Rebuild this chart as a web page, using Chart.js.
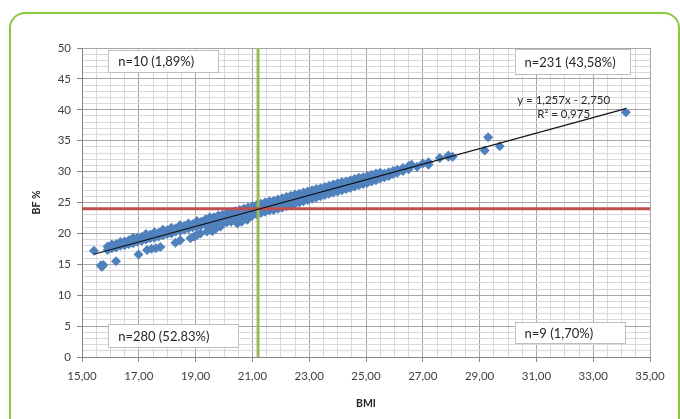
<!DOCTYPE html>
<html>
<head>
<meta charset="utf-8">
<script src="https://cdn.jsdelivr.net/npm/chart.js@4.4.1/dist/chart.umd.min.js"></script>
<style>
  html, body { margin: 0; padding: 0; background: #fff; }
  #wrap { position: relative; width: 680px; height: 419px; overflow: hidden; }
  #frame {
    position: absolute; left: 9px; top: 12px; width: 671px; height: 450px;
    border: 2px solid #8dc63f; border-radius: 16px; box-sizing: border-box;
  }
  #BFC { position: absolute; left: 0; top: 0; }
</style>
</head>
<body>
<div id="wrap">
  <div id="frame"></div>
  <canvas id="BFC" width="680" height="419"></canvas>
</div>
<script>
// BMI vs body fat %, points as [bmi, bf]
let mainBand = [
  [15.9,17.3],[15.9,17.9],[16.05,17.6],[16.05,18.2],[16.2,17.7],[16.2,18.3],[16.35,18.0],[16.35,18.6],[16.5,18.1],[16.5,18.7],
  [16.65,18.3],[16.65,18.9],[16.8,18.4],[16.8,19.0],[16.8,19.3],[16.95,18.7],[16.95,19.3],[17.1,18.8],[17.1,19.4],[17.25,19.0],
  [17.25,19.6],[17.25,19.9],[17.4,19.2],[17.4,19.8],[17.55,19.3],[17.55,19.9],[17.55,20.2],[17.7,19.5],[17.7,20.1],[17.85,19.7],
  [17.85,20.3],[17.85,20.6],[18.0,19.9],[18.0,20.5],[18.15,20.0],[18.15,20.6],[18.15,20.9],[18.3,20.3],[18.3,20.8],[18.45,20.4],
  [18.45,21.0],[18.45,21.3],[18.6,20.6],[18.6,21.2],[18.75,20.8],[18.75,21.4],[18.75,21.6],[18.9,21.0],[18.9,21.5],[19.05,21.1],
  [19.05,21.7],[19.05,22.0],[19.2,21.3],[19.2,21.9],[19.35,21.4],[19.35,22.0],[19.35,22.3],[19.5,21.5],[19.5,22.1],[19.5,22.6],
  [19.65,21.2],[19.65,21.9],[19.65,22.6],[19.8,21.5],[19.8,22.2],[19.8,22.9],[19.95,21.6],[19.95,22.4],[19.95,23.0],
  [20.1,21.8],[20.1,22.6],[20.1,23.2],[20.25,21.9],[20.25,22.7],[20.25,23.4],[20.4,22.2],[20.4,23.0],[20.4,23.6],
  [20.55,22.3],[20.55,23.1],[20.55,23.8],[20.7,22.6],[20.7,23.4],[20.7,24.0],[20.85,22.7],[20.85,23.5],[20.85,24.2],
  [21.0,22.9],[21.0,23.7],[21.0,24.4],[21.15,23.1],[21.15,23.9],[21.15,24.6],[21.3,23.3],[21.3,24.1],[21.3,24.8],
  [21.45,23.5],[21.45,24.3],[21.45,25.0],[21.6,23.7],[21.6,24.4],[21.6,25.2],[21.75,23.8],[21.75,24.6],[21.75,25.3],
  [21.9,24.0],[21.9,24.9],[21.9,25.5],[22.05,24.2],[22.05,25.0],[22.05,25.7],[22.2,24.4],[22.2,25.2],[22.2,25.9],
  [22.35,24.6],[22.35,25.4],[22.35,26.1],[22.5,24.8],[22.5,25.6],[22.5,26.3],[22.65,25.0],[22.65,25.8],[22.65,26.4],
  [22.8,25.2],[22.8,26.0],[22.8,26.6],[22.95,25.4],[22.95,26.1],[22.95,26.8],[23.1,25.6],[23.1,26.3],[23.1,27.0],
  [23.25,25.8],[23.25,26.5],[23.25,27.2],[23.4,26.0],[23.4,26.7],[23.4,27.3],[23.55,26.2],[23.55,26.9],[23.55,27.5],
  [23.7,26.4],[23.7,27.1],[23.7,27.7],[23.85,26.6],[23.85,27.3],[23.85,27.9],[24.0,26.8],[24.0,27.4],[24.0,28.1],
  [24.15,27.0],[24.15,27.6],[24.15,28.3],[24.3,27.2],[24.3,27.8],[24.3,28.4],[24.45,27.4],[24.45,28.0],[24.45,28.6],
  [24.6,27.6],[24.6,28.2],[24.6,28.8],[24.75,27.8],[24.75,28.4],[24.75,29.0],[24.9,28.0],[24.9,28.6],[24.9,29.1],
  [25.05,28.2],[25.05,28.8],[25.05,29.3],[25.2,28.4],[25.2,29.0],[25.2,29.5],[25.35,28.6],[25.35,29.1],[25.35,29.7],
  [25.5,28.9],[25.5,29.4],[25.5,29.8],[25.65,29.1],[25.65,29.7],[25.8,29.3],[25.8,29.9],[25.95,29.6],[25.95,30.1],
  [26.1,29.8],[26.1,30.3],[26.3,30.1],[26.3,30.6],[26.5,30.4],[26.5,30.9],[26.6,31.1],[26.8,30.8],[27.0,31.3],
  [27.2,31.5],[27.2,31.1],[27.6,32.2],[27.9,32.4],[27.9,32.6],[28.05,32.4]
];

let lowerTail = [
  [15.66,14.8],[15.75,14.9],[15.7,14.6],[16.2,15.5],[16.99,16.6],[17.29,17.3],[17.45,17.5],[17.6,17.6],[17.76,17.8],
  [18.29,18.5],[18.46,18.9],[18.82,19.2],[18.95,19.5],[19.05,19.7],[19.17,20.0],[19.4,20.3],[19.55,20.5],[19.6,20.4],
  [19.72,20.8],[19.88,21.1],[20.47,21.6],[20.62,21.9],[20.82,22.2]
];

let outliers = [
  [15.42,17.2],[29.3,35.55],[29.18,33.4],[29.71,34.1],[34.15,39.6]
];

// linear fit y = 1,257x - 2,750 over the data range
let trendEnds = [[15.42,16.63],[34.15,40.18]];
let bmiCut = 21.2;
let bfCut = 24;

let xTicks = { min: 15, max: 35, major: 2, minor: 0.5 };
let yTicks = { min: 0, max: 50, major: 5, minor: 1 };

let notes = [
  { text: "n=10 (1,89%)", x0: 15.92, x1: 19.81, y0: 49.7, y1: 46.1 },
  { text: "n=231 (43,58%)", x0: 30.23, x1: 34.29, y0: 49.8, y1: 45.8 },
  { text: "n=280 (52.83%)", x0: 15.92, x1: 20.5, y0: 5.3, y1: 1.5 },
  { text: "n=9 (1,70%)", x0: 30.23, x1: 34.1, y0: 5.66, y1: 2.27 },
];
let eqLines = [
  { text: "y = 1,257x - 2,750", x: 31.96, y: 41.6 },
  { text: "R\u00b2 = 0,975", x: 31.96, y: 39.2 },
];

let toXY = (arr) => arr.map((p) => ({ x: p[0], y: p[1] }));
let isMajor = (v, t) => {
  let k = (v - t.min) / t.major;
  return Math.abs(k - Math.round(k)) < 1e-6;
};

Chart.defaults.font.family = "Lato, 'Open Sans', sans-serif";
Chart.defaults.color = "#404040";

let notesPlugin = {
  id: "notes",
  afterDatasetsDraw(chart) {
    let { ctx, scales } = chart;
    let xs = scales.x, ys = scales.y;
    ctx.save();
    ctx.font = "13px Lato, 'Open Sans', sans-serif";
    ctx.textBaseline = "middle";
    notes.forEach((n) => {
      let l = xs.getPixelForValue(n.x0), r = xs.getPixelForValue(n.x1);
      let t = ys.getPixelForValue(n.y0), b = ys.getPixelForValue(n.y1);
      ctx.fillStyle = "#fff";
      ctx.fillRect(l, t, r - l, b - t);
      ctx.strokeStyle = "#bfbfbf";
      ctx.lineWidth = 1;
      ctx.strokeRect(Math.round(l) + 0.5, Math.round(t) + 0.5, Math.round(r - l), Math.round(b - t));
      ctx.fillStyle = "#262626";
      ctx.textAlign = "left";
      ctx.fillText(n.text, l + 10, (t + b) / 2 + 1);
    });
    ctx.font = "11.5px Lato, 'Open Sans', sans-serif";
    ctx.textAlign = "center";
    eqLines.forEach((e) => {
      ctx.fillStyle = "#262626";
      ctx.fillText(e.text, xs.getPixelForValue(e.x), ys.getPixelForValue(e.y));
    });
    ctx.restore();
  },
};

renderBodyFatChart();

function renderBodyFatChart() {
  let BFC = document.querySelector("#BFC");
  let ConfigBFC = new Chart(BFC, {
    type: "scatter",
    data: {
      datasets: [
        {
          label: "Trend",
          type: "line",
          data: toXY(trendEnds),
          borderColor: "#111",
          borderWidth: 1.2,
          pointRadius: 0,
          order: 0,
        },
        {
          label: "BF cut",
          type: "line",
          data: [{ x: xTicks.min, y: bfCut }, { x: xTicks.max, y: bfCut }],
          borderColor: "#c0504d",
          borderWidth: 3,
          pointRadius: 0,
          order: 1,
        },
        {
          label: "BMI cut",
          type: "line",
          data: [{ x: bmiCut, y: yTicks.min }, { x: bmiCut, y: yTicks.max }],
          borderColor: "#9bbb59",
          borderWidth: 3,
          pointRadius: 0,
          order: 1,
        },
        {
          label: "BF %",
          data: toXY(mainBand.concat(lowerTail, outliers)),
          backgroundColor: "#4f81bd",
          borderWidth: 0,
          pointStyle: "rectRot",
          pointRadius: 5,
          order: 2,
        },
      ],
    },

    //other chartJS options for drawing the chart
    options: {
      responsive: false,
      animation: false,
      layout: { padding: { left: 0, top: 48, right: 30, bottom: 0 } },
      plugins: { legend: { display: false }, tooltip: { enabled: false } },
      scales: {
        x: {
          type: "linear",
          min: xTicks.min,
          max: xTicks.max,
          afterFit: (s) => { s.height = 62; },
          border: { color: "#868686" },
          grid: {
            color: (c) => (isMajor(c.tick.value, xTicks) ? "#a6a6a6" : "#d9d9d9"),
            tickColor: (c) => (isMajor(c.tick.value, xTicks) ? "#868686" : "rgba(0,0,0,0)"),
            tickLength: 5,
          },
          ticks: {
            stepSize: xTicks.minor,
            autoSkip: false,
            maxRotation: 0,
            padding: 7,
            font: { size: 11.5 },
            callback: (v) => (isMajor(v, xTicks) ? v.toFixed(2).replace(".", ",") : ""),
          },
          title: {
            display: true,
            text: "BMI",
            font: { size: 10.5, weight: "bold" },
            color: "#262626",
            padding: { top: 0, bottom: 9 },
          },
        },
        y: {
          min: yTicks.min,
          max: yTicks.max,
          afterFit: (s) => { s.width = 82; },
          border: { color: "#868686" },
          grid: {
            color: (c) => (isMajor(c.tick.value, yTicks) ? "#a6a6a6" : "#d9d9d9"),
            tickColor: (c) => (isMajor(c.tick.value, yTicks) ? "#868686" : "rgba(0,0,0,0)"),
            tickLength: 5,
          },
          ticks: {
            stepSize: yTicks.minor,
            autoSkip: false,
            padding: 6,
            font: { size: 11.5 },
            callback: (v) => (isMajor(v, yTicks) ? String(v) : ""),
          },
          title: {
            display: true,
            text: "BF %",
            font: { size: 10.5, weight: "bold" },
            color: "#262626",
            padding: { top: 30, bottom: 0 },
          },
        },
      },
    },
    plugins: [notesPlugin],
  });
}
</script>
</body>
</html>
